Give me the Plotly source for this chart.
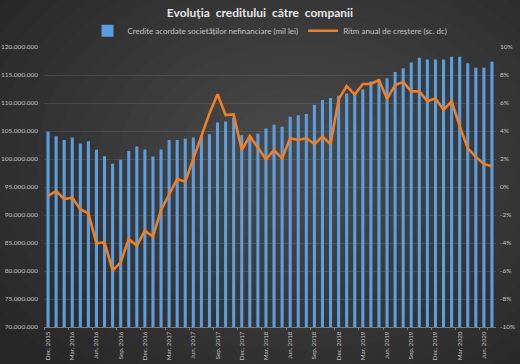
import plotly.graph_objects as go
import pandas as pd

# ---- data ----
months = [d.strftime("%b. %Y") for d in pd.date_range("2015-12-01", "2020-07-01", freq="MS")]

credite = [  # mil lei
    104850000, 104050000, 103400000, 103850000, 102750000, 103150000, 101650000, 100500000,
    99150000, 99850000, 101450000, 102250000, 101700000, 100450000, 101700000, 103400000,
    103400000, 103600000, 103850000, 104150000, 104400000, 106500000, 106700000, 107400000,
    104250000, 104000000, 104500000, 105450000, 106100000, 105750000, 107550000, 107800000,
    108050000, 109700000, 110550000, 110900000, 111300000, 111700000, 111850000, 112400000,
    113850000, 114200000, 114400000, 115550000, 116200000, 117250000, 118100000, 117750000,
    117750000, 117750000, 118250000, 118250000, 117100000, 116300000, 116300000, 117350000,
]

ritm = [  # %
    -0.64, -0.29, -0.86, -0.76, -1.59, -1.88, -4.02, -3.95, -5.98, -5.38, -3.71, -4.19,
    -3.12, -3.55, -1.64, -0.57, 0.57, 0.38, 2.05, 3.71, 5.26, 6.62, 5.14, 5.19,
    2.64, 3.64, 2.84, 1.98, 2.64, 2.05, 3.48, 3.36, 3.48, 3.07, 3.60, 3.05,
    6.26, 7.21, 6.60, 7.36, 7.36, 7.64, 6.30, 7.29, 7.50, 6.83, 6.83, 6.12,
    6.33, 5.50, 6.12, 4.35, 2.76, 2.15, 1.65, 1.49,
]

tick_labels = ["Dec. 2015", "Mar. 2016", "Jun. 2016", "Sep. 2016", "Dec. 2016", "Mar. 2017",
               "Jun. 2017", "Sep. 2017", "Dec. 2017", "Mar. 2018", "Jun. 2018", "Sep. 2018",
               "Dec. 2018", "Mar. 2019", "Jun. 2019", "Sep. 2019", "Dec. 2019", "Mar. 2020",
               "Jun. 2020"]

left_ticks = [70000000, 75000000, 80000000, 85000000, 90000000, 95000000,
              100000000, 105000000, 110000000, 115000000, 120000000]
right_ticks = [-10, -8, -6, -4, -2, 0, 2, 4, 6, 8, 10]
right_labels = ["-10%", "-8%", "-6%", "-4%", "-2%", "0%", "2%", "4%", "6%", "8%", "10%"]

FONT = "Lato, 'Open Sans', sans-serif"
TXT = "#c4c4c4"

fig = go.Figure()
fig.add_trace(go.Bar(
    x=months, y=credite, name="Credite acordate societăților nefinanciare (mil lei)",
    marker=dict(color="#5b9fe3", line=dict(width=0)),
))
fig.add_trace(go.Scatter(
    x=months, y=ritm, name="Ritm anual de creștere (sc. dc)", yaxis="y2",
    mode="lines", line=dict(color="#f07f26", width=2.6),
))

# radial-ish background gradient via layered ellipses
shapes = []
n = 16
for i in range(n):
    r = 1.0 - i * (0.9 / n)
    shapes.append(dict(type="circle", xref="paper", yref="paper", layer="below",
                       x0=0.56 - r * 0.8, x1=0.56 + r * 0.8,
                       y0=0.6 - r * 0.95, y1=0.6 + r * 0.95,
                       fillcolor="rgba(255,255,255,0.0125)", line=dict(width=0)))

fig.update_layout(
    width=520, height=364,
    margin=dict(l=44, r=24, t=47, b=37, autoexpand=False),
    paper_bgcolor="#272727",
    plot_bgcolor="rgba(0,0,0,0)",
    separators=",.",
    bargap=0.62,
    shapes=shapes,
    font=dict(family=FONT, color=TXT, size=7),
    title=dict(text="Evoluția  creditului  către  companii", x=0.5, xanchor="center",
               y=1 - 12.5 / 364, yanchor="middle",
               font=dict(family=FONT, size=12, color="#e6e6e6", weight="bold")),
    legend=dict(orientation="h", x=0.5, xanchor="center", y=1.058, yanchor="middle",
                font=dict(size=8, color=TXT), bgcolor="rgba(0,0,0,0)",
                tracegroupgap=0),
    xaxis=dict(type="category", tickmode="array", tickvals=tick_labels, ticktext=tick_labels,
               tickangle=-90, tickfont=dict(size=6.3, color=TXT), showgrid=False,
               showline=True, linecolor="#7a7a7a", linewidth=1,
               ticks="outside", ticklen=2, tickcolor="#7a7a7a", tickson="boundaries",
               ticklabelstandoff=1,
               range=[-0.5, len(months) - 0.5]),
    yaxis=dict(range=[70000000, 120000000], tickvals=left_ticks, tickformat=",d",
               showgrid=True, gridcolor="rgba(255,255,255,0.1)", gridwidth=1,
               zeroline=False, tickfont=dict(size=6.5, color=TXT), ticks="",
               ticklabelstandoff=5),
    yaxis2=dict(range=[-10, 10], tickvals=right_ticks, ticktext=right_labels,
                overlaying="y", side="right", showgrid=False, zeroline=False,
                tickfont=dict(size=6.5, color=TXT), ticks="", ticklabelstandoff=3),
    showlegend=True,
)

fig.write_html("out.html", config={"displayModeBar": False},
               post_script="document.body.style.margin='0';document.body.style.overflow='hidden';")
